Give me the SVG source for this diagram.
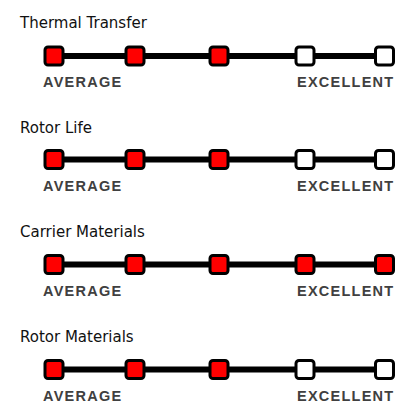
<svg xmlns="http://www.w3.org/2000/svg" width="416" height="416" viewBox="0 0 416 416">
<style>
.t{font-family:"DejaVu Sans",Verdana,sans-serif;font-size:15px;fill:#111}
.l{font-family:"Liberation Sans",Arial,sans-serif;font-size:14.5px;font-weight:bold;fill:#404040;letter-spacing:1.25px}
.ln{stroke:#000;stroke-width:6}
.s{stroke:#000;stroke-width:3}
.on{fill:#f00}
.off{fill:#fff}
</style>
<rect width="416" height="416" fill="#fff"/>
<defs>
<rect id="sq" x="-9" y="-9" width="18" height="18" rx="3"/>
</defs>
<g id="connectors">
<line class="ln" x1="54" y1="56" x2="384" y2="56"/>
<line class="ln" x1="54" y1="159.5" x2="384" y2="159.5"/>
<line class="ln" x1="54" y1="264.5" x2="384" y2="264.5"/>
<line class="ln" x1="54" y1="369.5" x2="384" y2="369.5"/>
</g>
<g id="thermal-transfer">
<text class="t" x="20" y="28">Thermal Transfer</text>
<use href="#sq" class="s on" x="54" y="56"/><use href="#sq" class="s on" x="135" y="56"/><use href="#sq" class="s on" x="219" y="56"/><use href="#sq" class="s off" x="305" y="56"/><use href="#sq" class="s off" x="384.5" y="56"/>
<text class="l" x="43" y="87">AVERAGE</text><text class="l" x="297" y="87">EXCELLENT</text>
</g>
<g id="rotor-life">
<text class="t" x="20" y="133">Rotor Life</text>
<use href="#sq" class="s on" x="54" y="159.5"/><use href="#sq" class="s on" x="135" y="159.5"/><use href="#sq" class="s on" x="219" y="159.5"/><use href="#sq" class="s off" x="305" y="159.5"/><use href="#sq" class="s off" x="384.5" y="159.5"/>
<text class="l" x="43" y="191">AVERAGE</text><text class="l" x="297" y="191">EXCELLENT</text>
</g>
<g id="carrier-materials">
<text class="t" x="20" y="237">Carrier Materials</text>
<use href="#sq" class="s on" x="54" y="264.5"/><use href="#sq" class="s on" x="135" y="264.5"/><use href="#sq" class="s on" x="219" y="264.5"/><use href="#sq" class="s on" x="305" y="264.5"/><use href="#sq" class="s on" x="384.5" y="264.5"/>
<text class="l" x="43" y="296">AVERAGE</text><text class="l" x="297" y="296">EXCELLENT</text>
</g>
<g id="rotor-materials">
<text class="t" x="20" y="342">Rotor Materials</text>
<use href="#sq" class="s on" x="54" y="369.5"/><use href="#sq" class="s on" x="135" y="369.5"/><use href="#sq" class="s on" x="219" y="369.5"/><use href="#sq" class="s off" x="305" y="369.5"/><use href="#sq" class="s off" x="384.5" y="369.5"/>
<text class="l" x="43" y="401">AVERAGE</text><text class="l" x="297" y="401">EXCELLENT</text>
</g>
</svg>
